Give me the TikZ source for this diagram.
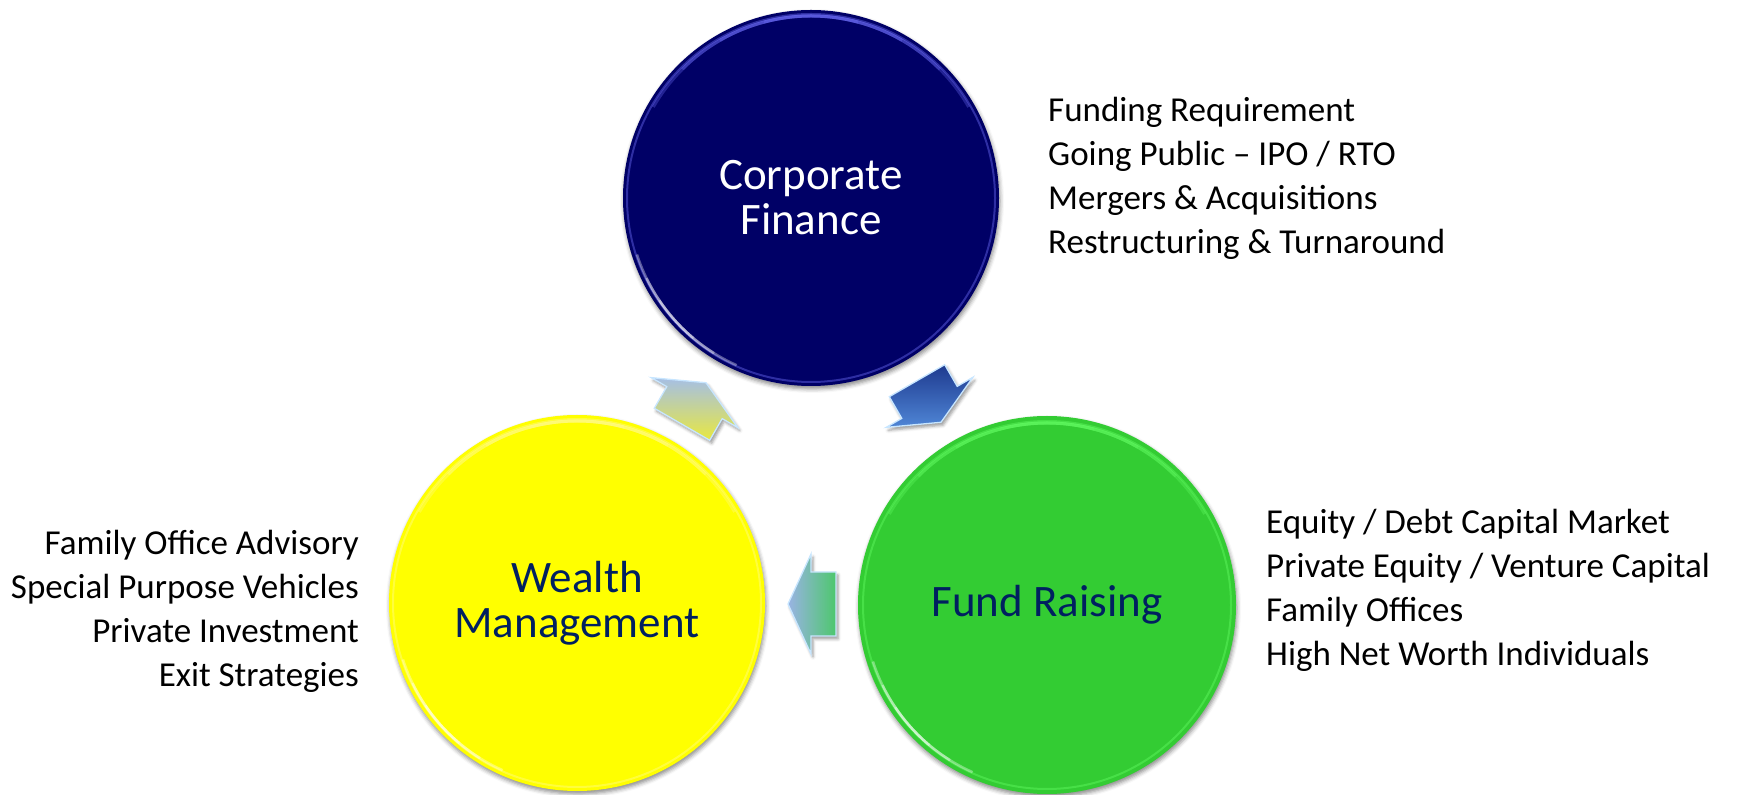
\documentclass[tikz,border=0pt]{standalone}
\usepackage{fontspec}
\setmainfont{Carlito}
\usetikzlibrary{calc,shadows.blur}

\definecolor{cfblue}{HTML}{000066}
\definecolor{wmyellow}{HTML}{FFFF00}
\definecolor{frgreen}{HTML}{33CC33}
\definecolor{labelnavy}{HTML}{002060}
\definecolor{arrowedge}{HTML}{C8E6FF}
\definecolor{bluetop}{HTML}{1E3A8F}
\definecolor{bluebot}{HTML}{4F86D6}
\definecolor{tealleft}{HTML}{99B3E3}
\definecolor{tealright}{HTML}{4DC76D}
\definecolor{goldtop}{HTML}{A5BFE6}
\definecolor{goldbot}{HTML}{E8E840}

\tikzset{
  hub/.style={circle, minimum size=376pt, inner sep=0pt, align=center,
    font=\fontsize{45}{45}\selectfont,
    blur shadow={shadow xshift=1pt, shadow yshift=-3pt, shadow blur radius=4pt, shadow opacity=45}},
  itemlist/.style={font=\fontsize{35}{44}\selectfont, inner sep=0pt},
  flowarrow/.style={draw=arrowedge, line width=1.3pt, line join=miter,
    blur shadow={shadow xshift=2pt, shadow yshift=-3pt, shadow blur radius=3pt, shadow opacity=40}},
}

% glossy rim on a round hub: #1 node, #2 highlight colour
\newcommand\hubgloss[2]{%
  \begin{scope}
    \clip (#1.center) circle (188pt);
    \draw[#2, line width=2pt, opacity=.4] (#1.center) circle (184pt);
    \foreach \s in {15,30,45,60}{
      \draw[#2, line width=3pt, opacity=.3] ($(#1.center)+(90-\s:182pt)$) arc (90-\s:90+\s:182pt);
    }
    \foreach \s in {8,16,24}{
      \draw[white, line width=2.5pt, opacity=.35] ($(#1.center)+(222-\s:183pt)$) arc (222-\s:222+\s:183pt);
    }
  \end{scope}}

% block arrow pointing along +x, centred on the origin
\newcommand\flowshape{(24,0) -- (1,50) -- (1,32) -- (-24,32) -- (-24,-32) -- (1,-32) -- (1,-50) -- cycle}

\begin{document}
\begin{tikzpicture}[x=1pt,y=1pt]
\useasboundingbox (0,0) rectangle (1740,795);

% the three service hubs
\node[hub, fill=cfblue, text=white] (cf) at (811,597) {Corporate\\Finance};
\node[hub, fill=wmyellow, text=labelnavy] (wm) at (577,192) {Wealth\\Management};
\node[hub, fill=frgreen, text=labelnavy, minimum size=378pt] (fr) at (1047,190) {Fund Raising};

\hubgloss{cf}{blue!55!white}
\hubgloss{wm}{yellow!40!white}
\hubgloss{fr}{green!60!white}

% cycle arrows between the hubs
\begin{scope}[shift={($(cf)!0.5!(fr)$)}, rotate=-60]
  \path[flowarrow, top color=bluetop, bottom color=bluebot] \flowshape;
\end{scope}
\begin{scope}[shift={($(fr)!0.5!(wm)$)}, rotate=180]
  \path[flowarrow, left color=tealleft, right color=tealright] \flowshape;
\end{scope}
\begin{scope}[shift={($(wm)!0.5!(cf)+(0,-3)$)}, rotate=60]
  \path[flowarrow, top color=goldtop, bottom color=goldbot] \flowshape;
\end{scope}

% service lists (anchored on the baseline of their last line)
\node[itemlist, anchor=base west, align=left] (cflist) at (1048,541)
  {Funding Requirement\\Going Public – IPO / RTO\\Mergers \& Acquisitions\\Restructuring \& Turnaround};
\node[itemlist, anchor=base east, align=right] (wmlist) at (359,108)
  {Family Office Advisory\\Special Purpose Vehicles\\Private Investment\\Exit Strategies};
\node[itemlist, anchor=base west, align=left] (frlist) at (1266,129)
  {Equity / Debt Capital Market\\Private Equity / Venture Capital\\Family Offices\\High Net Worth Individuals};
\end{tikzpicture}
\end{document}
